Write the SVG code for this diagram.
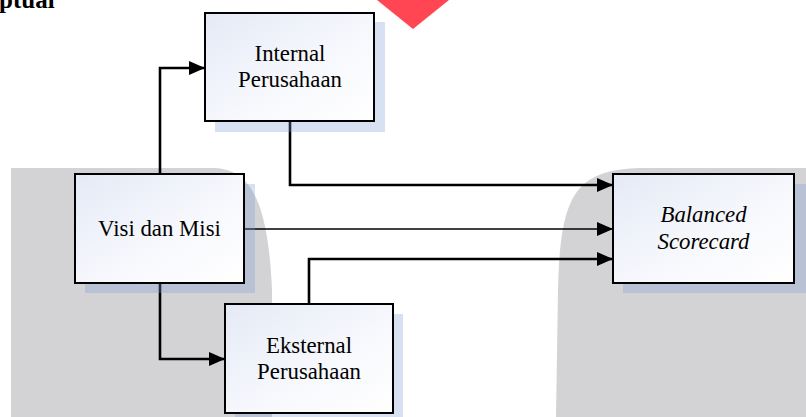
<svg xmlns="http://www.w3.org/2000/svg" width="806" height="417" viewBox="0 0 806 417">
<style>
.box{fill:url(#boxgrad);stroke:#000;stroke-width:2}
.shadow{fill:rgb(123,157,211);fill-opacity:0.3}
.lbl{font-family:"Liberation Serif","Times New Roman",serif;font-size:22.8px;fill:#000;text-anchor:middle}
.conn{fill:none;stroke:#000;stroke-width:2.6;marker-end:url(#arr)}
.thin{stroke-width:1.6}
.bg{fill:#d3d3d5}
</style>
<defs>
<linearGradient id="boxgrad" x1="0" y1="0" x2="1" y2="1">
<stop offset="0" stop-color="#e4eaf6"/>
<stop offset="0.6" stop-color="#f8f9fd"/>
<stop offset="1" stop-color="#ffffff"/>
</linearGradient>
<marker id="arr" viewBox="0 0 16 14" refX="16" refY="7" markerWidth="16" markerHeight="14" markerUnits="userSpaceOnUse" orient="auto">
<path d="M0,0 L16,7 L0,14 Z" fill="#000"/>
</marker>
</defs>
<g id="background">
<path class="bg" d="M11 417 V168 H215 C250 170 268 200 272 290 V417 Z"/>
<path class="bg" d="M556 417 L558 290 C560 195 575 170 640 168 H806 V417 Z"/>
<polygon points="377,0 449,0 413,29" fill="#ff4652"/>
<text x="-1" y="8" font-family="'Liberation Serif','Times New Roman',serif" font-size="25" font-weight="bold">ptual</text>
</g>
<g id="connectors">
<path class="conn" d="M160 174 V68 H205"/>
<path class="conn" d="M290 121 V185 H613"/>
<path class="conn thin" d="M244 229 H613"/>
<path class="conn" d="M309 304 V259 H613"/>
<path class="conn" d="M160 283 V359 H225"/>
</g>
<g id="internal">
<rect class="shadow" x="215" y="22" width="170" height="110"/>
<rect class="box" x="205" y="13" width="169" height="108"/>
<text class="lbl" x="290" y="61">Internal</text>
<text class="lbl" x="290" y="87">Perusahaan</text>
</g>
<g id="visi">
<rect class="shadow" x="85" y="184" width="170" height="109"/>
<rect class="box" x="75" y="174" width="169" height="109"/>
<text class="lbl" x="159.5" y="236">Visi dan Misi</text>
</g>
<g id="eksternal">
<rect class="shadow" x="235" y="314" width="168" height="110"/>
<rect class="box" x="225" y="304" width="168" height="109"/>
<text class="lbl" x="309" y="353">Eksternal</text>
<text class="lbl" x="309" y="379">Perusahaan</text>
</g>
<g id="balanced">
<rect class="shadow" x="623" y="184" width="190" height="109"/>
<rect class="box" x="613" y="174" width="181" height="109"/>
<text class="lbl" x="703.5" y="222" font-style="italic">Balanced</text>
<text class="lbl" x="703.5" y="249" font-style="italic">Scorecard</text>
</g>
</svg>
